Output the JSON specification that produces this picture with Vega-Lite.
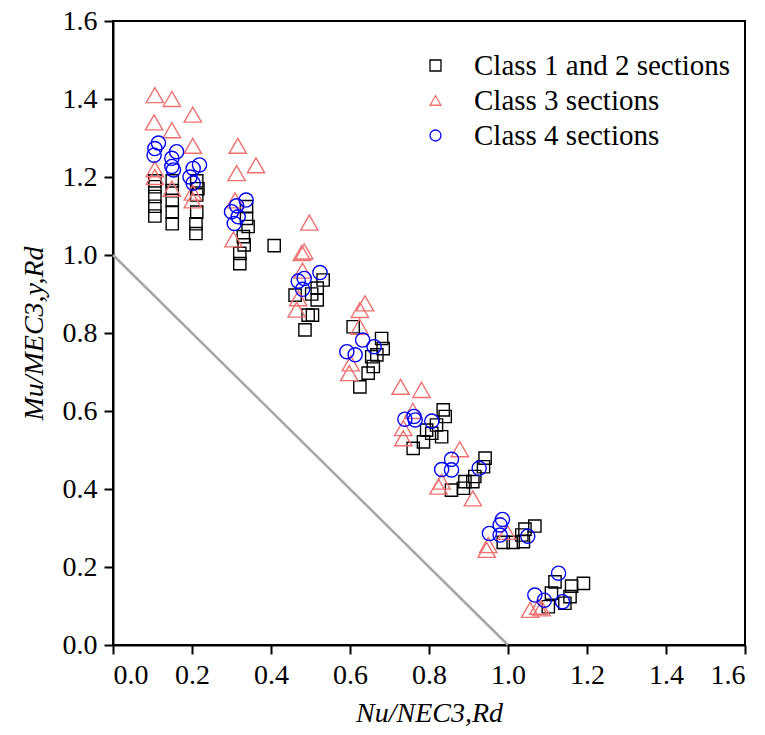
{
  "$schema": "https://vega.github.io/schema/vega-lite/v6.json",
  "width": 632,
  "height": 624,
  "autosize": {"type": "none"},
  "padding": {"left": 113, "top": 21, "right": 20, "bottom": 90},
  "config": {
    "view": {"stroke": "black", "strokeWidth": 2},
    "font": "Liberation Serif",
    "axis": {
      "grid": false,
      "domainColor": "black",
      "domainWidth": 2,
      "tickColor": "black",
      "tickWidth": 2,
      "tickSize": 9,
      "labelFont": "Liberation Serif",
      "labelFontSize": 28,
      "labelColor": "black",
      "labelPadding": 7,
      "titleFont": "Liberation Serif",
      "titleFontSize": 28,
      "titleFontStyle": "italic",
      "titleFontWeight": "normal",
      "titleColor": "black"
    },
    "legend": {
      "labelFont": "Liberation Serif",
      "labelFontSize": 29,
      "labelColor": "black",
      "labelLimit": 0
    }
  },
  "data": {"values": [
    {"nx": 0.106, "my": 1.19, "cls": "Class 1 and 2 sections"},
    {"nx": 0.106, "my": 1.175, "cls": "Class 1 and 2 sections"},
    {"nx": 0.106, "my": 1.15, "cls": "Class 1 and 2 sections"},
    {"nx": 0.106, "my": 1.125, "cls": "Class 1 and 2 sections"},
    {"nx": 0.106, "my": 1.10, "cls": "Class 1 and 2 sections"},
    {"nx": 0.15, "my": 1.19, "cls": "Class 1 and 2 sections"},
    {"nx": 0.15, "my": 1.165, "cls": "Class 1 and 2 sections"},
    {"nx": 0.15, "my": 1.14, "cls": "Class 1 and 2 sections"},
    {"nx": 0.15, "my": 1.11, "cls": "Class 1 and 2 sections"},
    {"nx": 0.15, "my": 1.08, "cls": "Class 1 and 2 sections"},
    {"nx": 0.212, "my": 1.19, "cls": "Class 1 and 2 sections"},
    {"nx": 0.215, "my": 1.17, "cls": "Class 1 and 2 sections"},
    {"nx": 0.212, "my": 1.154, "cls": "Class 1 and 2 sections"},
    {"nx": 0.212, "my": 1.11, "cls": "Class 1 and 2 sections"},
    {"nx": 0.21, "my": 1.08, "cls": "Class 1 and 2 sections"},
    {"nx": 0.21, "my": 1.055, "cls": "Class 1 and 2 sections"},
    {"nx": 0.338, "my": 1.124, "cls": "Class 1 and 2 sections"},
    {"nx": 0.338, "my": 1.094, "cls": "Class 1 and 2 sections"},
    {"nx": 0.342, "my": 1.073, "cls": "Class 1 and 2 sections"},
    {"nx": 0.33, "my": 1.047, "cls": "Class 1 and 2 sections"},
    {"nx": 0.332, "my": 1.026, "cls": "Class 1 and 2 sections"},
    {"nx": 0.321, "my": 1.004, "cls": "Class 1 and 2 sections"},
    {"nx": 0.321, "my": 0.978, "cls": "Class 1 and 2 sections"},
    {"nx": 0.408, "my": 1.024, "cls": "Class 1 and 2 sections"},
    {"nx": 0.532, "my": 0.936, "cls": "Class 1 and 2 sections"},
    {"nx": 0.517, "my": 0.915, "cls": "Class 1 and 2 sections"},
    {"nx": 0.503, "my": 0.90, "cls": "Class 1 and 2 sections"},
    {"nx": 0.461, "my": 0.897, "cls": "Class 1 and 2 sections"},
    {"nx": 0.517, "my": 0.885, "cls": "Class 1 and 2 sections"},
    {"nx": 0.505, "my": 0.846, "cls": "Class 1 and 2 sections"},
    {"nx": 0.494, "my": 0.846, "cls": "Class 1 and 2 sections"},
    {"nx": 0.486, "my": 0.808, "cls": "Class 1 and 2 sections"},
    {"nx": 0.68, "my": 0.786, "cls": "Class 1 and 2 sections"},
    {"nx": 0.684, "my": 0.76, "cls": "Class 1 and 2 sections"},
    {"nx": 0.668, "my": 0.744, "cls": "Class 1 and 2 sections"},
    {"nx": 0.655, "my": 0.739, "cls": "Class 1 and 2 sections"},
    {"nx": 0.659, "my": 0.714, "cls": "Class 1 and 2 sections"},
    {"nx": 0.646, "my": 0.697, "cls": "Class 1 and 2 sections"},
    {"nx": 0.625, "my": 0.662, "cls": "Class 1 and 2 sections"},
    {"nx": 0.608, "my": 0.816, "cls": "Class 1 and 2 sections"},
    {"nx": 0.836, "my": 0.603, "cls": "Class 1 and 2 sections"},
    {"nx": 0.841, "my": 0.586, "cls": "Class 1 and 2 sections"},
    {"nx": 0.819, "my": 0.564, "cls": "Class 1 and 2 sections"},
    {"nx": 0.794, "my": 0.551, "cls": "Class 1 and 2 sections"},
    {"nx": 0.832, "my": 0.534, "cls": "Class 1 and 2 sections"},
    {"nx": 0.786, "my": 0.521, "cls": "Class 1 and 2 sections"},
    {"nx": 0.76, "my": 0.504, "cls": "Class 1 and 2 sections"},
    {"nx": 0.807, "my": 0.543, "cls": "Class 1 and 2 sections"},
    {"nx": 0.942, "my": 0.479, "cls": "Class 1 and 2 sections"},
    {"nx": 0.938, "my": 0.457, "cls": "Class 1 and 2 sections"},
    {"nx": 0.916, "my": 0.432, "cls": "Class 1 and 2 sections"},
    {"nx": 0.911, "my": 0.419, "cls": "Class 1 and 2 sections"},
    {"nx": 0.891, "my": 0.419, "cls": "Class 1 and 2 sections"},
    {"nx": 0.887, "my": 0.402, "cls": "Class 1 and 2 sections"},
    {"nx": 0.857, "my": 0.397, "cls": "Class 1 and 2 sections"},
    {"nx": 1.068, "my": 0.305, "cls": "Class 1 and 2 sections"},
    {"nx": 1.043, "my": 0.297, "cls": "Class 1 and 2 sections"},
    {"nx": 1.035, "my": 0.282, "cls": "Class 1 and 2 sections"},
    {"nx": 1.013, "my": 0.263, "cls": "Class 1 and 2 sections"},
    {"nx": 0.988, "my": 0.263, "cls": "Class 1 and 2 sections"},
    {"nx": 1.039, "my": 0.265, "cls": "Class 1 and 2 sections"},
    {"nx": 1.191, "my": 0.158, "cls": "Class 1 and 2 sections"},
    {"nx": 1.161, "my": 0.151, "cls": "Class 1 and 2 sections"},
    {"nx": 1.119, "my": 0.162, "cls": "Class 1 and 2 sections"},
    {"nx": 1.11, "my": 0.133, "cls": "Class 1 and 2 sections"},
    {"nx": 1.157, "my": 0.124, "cls": "Class 1 and 2 sections"},
    {"nx": 1.144, "my": 0.107, "cls": "Class 1 and 2 sections"},
    {"nx": 1.102, "my": 0.098, "cls": "Class 1 and 2 sections"},
    {"nx": 0.106, "my": 1.41, "cls": "Class 3 sections"},
    {"nx": 0.149, "my": 1.40, "cls": "Class 3 sections"},
    {"nx": 0.202, "my": 1.36, "cls": "Class 3 sections"},
    {"nx": 0.104, "my": 1.34, "cls": "Class 3 sections"},
    {"nx": 0.149, "my": 1.32, "cls": "Class 3 sections"},
    {"nx": 0.202, "my": 1.28, "cls": "Class 3 sections"},
    {"nx": 0.316, "my": 1.28, "cls": "Class 3 sections"},
    {"nx": 0.362, "my": 1.23, "cls": "Class 3 sections"},
    {"nx": 0.313, "my": 1.21, "cls": "Class 3 sections"},
    {"nx": 0.106, "my": 1.22, "cls": "Class 3 sections"},
    {"nx": 0.106, "my": 1.20, "cls": "Class 3 sections"},
    {"nx": 0.149, "my": 1.17, "cls": "Class 3 sections"},
    {"nx": 0.202, "my": 1.16, "cls": "Class 3 sections"},
    {"nx": 0.202, "my": 1.14, "cls": "Class 3 sections"},
    {"nx": 0.309, "my": 1.14, "cls": "Class 3 sections"},
    {"nx": 0.305, "my": 1.04, "cls": "Class 3 sections"},
    {"nx": 0.497, "my": 1.083, "cls": "Class 3 sections"},
    {"nx": 0.484, "my": 1.009, "cls": "Class 3 sections"},
    {"nx": 0.478, "my": 1.005, "cls": "Class 3 sections"},
    {"nx": 0.48, "my": 0.96, "cls": "Class 3 sections"},
    {"nx": 0.469, "my": 0.889, "cls": "Class 3 sections"},
    {"nx": 0.465, "my": 0.86, "cls": "Class 3 sections"},
    {"nx": 0.638, "my": 0.876, "cls": "Class 3 sections"},
    {"nx": 0.625, "my": 0.859, "cls": "Class 3 sections"},
    {"nx": 0.624, "my": 0.816, "cls": "Class 3 sections"},
    {"nx": 0.602, "my": 0.722, "cls": "Class 3 sections"},
    {"nx": 0.598, "my": 0.697, "cls": "Class 3 sections"},
    {"nx": 0.728, "my": 0.662, "cls": "Class 3 sections"},
    {"nx": 0.781, "my": 0.654, "cls": "Class 3 sections"},
    {"nx": 0.759, "my": 0.60, "cls": "Class 3 sections"},
    {"nx": 0.735, "my": 0.556, "cls": "Class 3 sections"},
    {"nx": 0.735, "my": 0.53, "cls": "Class 3 sections"},
    {"nx": 0.878, "my": 0.502, "cls": "Class 3 sections"},
    {"nx": 0.832, "my": 0.419, "cls": "Class 3 sections"},
    {"nx": 0.824, "my": 0.406, "cls": "Class 3 sections"},
    {"nx": 0.911, "my": 0.376, "cls": "Class 3 sections"},
    {"nx": 0.95, "my": 0.256, "cls": "Class 3 sections"},
    {"nx": 0.946, "my": 0.244, "cls": "Class 3 sections"},
    {"nx": 0.997, "my": 0.29, "cls": "Class 3 sections"},
    {"nx": 1.056, "my": 0.09, "cls": "Class 3 sections"},
    {"nx": 1.077, "my": 0.098, "cls": "Class 3 sections"},
    {"nx": 1.085, "my": 0.094, "cls": "Class 3 sections"},
    {"nx": 0.115, "my": 1.287, "cls": "Class 4 sections"},
    {"nx": 0.106, "my": 1.273, "cls": "Class 4 sections"},
    {"nx": 0.104, "my": 1.256, "cls": "Class 4 sections"},
    {"nx": 0.161, "my": 1.265, "cls": "Class 4 sections"},
    {"nx": 0.149, "my": 1.248, "cls": "Class 4 sections"},
    {"nx": 0.149, "my": 1.227, "cls": "Class 4 sections"},
    {"nx": 0.153, "my": 1.218, "cls": "Class 4 sections"},
    {"nx": 0.219, "my": 1.231, "cls": "Class 4 sections"},
    {"nx": 0.203, "my": 1.222, "cls": "Class 4 sections"},
    {"nx": 0.195, "my": 1.20, "cls": "Class 4 sections"},
    {"nx": 0.203, "my": 1.184, "cls": "Class 4 sections"},
    {"nx": 0.337, "my": 1.141, "cls": "Class 4 sections"},
    {"nx": 0.313, "my": 1.126, "cls": "Class 4 sections"},
    {"nx": 0.30, "my": 1.111, "cls": "Class 4 sections"},
    {"nx": 0.317, "my": 1.098, "cls": "Class 4 sections"},
    {"nx": 0.307, "my": 1.081, "cls": "Class 4 sections"},
    {"nx": 0.524, "my": 0.955, "cls": "Class 4 sections"},
    {"nx": 0.484, "my": 0.94, "cls": "Class 4 sections"},
    {"nx": 0.469, "my": 0.933, "cls": "Class 4 sections"},
    {"nx": 0.48, "my": 0.912, "cls": "Class 4 sections"},
    {"nx": 0.632, "my": 0.782, "cls": "Class 4 sections"},
    {"nx": 0.661, "my": 0.765, "cls": "Class 4 sections"},
    {"nx": 0.592, "my": 0.752, "cls": "Class 4 sections"},
    {"nx": 0.613, "my": 0.744, "cls": "Class 4 sections"},
    {"nx": 0.739, "my": 0.579, "cls": "Class 4 sections"},
    {"nx": 0.762, "my": 0.586, "cls": "Class 4 sections"},
    {"nx": 0.765, "my": 0.577, "cls": "Class 4 sections"},
    {"nx": 0.807, "my": 0.574, "cls": "Class 4 sections"},
    {"nx": 0.857, "my": 0.476, "cls": "Class 4 sections"},
    {"nx": 0.832, "my": 0.45, "cls": "Class 4 sections"},
    {"nx": 0.857, "my": 0.449, "cls": "Class 4 sections"},
    {"nx": 0.927, "my": 0.453, "cls": "Class 4 sections"},
    {"nx": 0.986, "my": 0.322, "cls": "Class 4 sections"},
    {"nx": 0.98, "my": 0.308, "cls": "Class 4 sections"},
    {"nx": 0.953, "my": 0.286, "cls": "Class 4 sections"},
    {"nx": 0.98, "my": 0.282, "cls": "Class 4 sections"},
    {"nx": 1.05, "my": 0.279, "cls": "Class 4 sections"},
    {"nx": 1.128, "my": 0.184, "cls": "Class 4 sections"},
    {"nx": 1.068, "my": 0.128, "cls": "Class 4 sections"},
    {"nx": 1.092, "my": 0.115, "cls": "Class 4 sections"},
    {"nx": 1.138, "my": 0.111, "cls": "Class 4 sections"}
  ]},
  "encoding": {
    "x": {"field": "nx", "type": "quantitative", "scale": {"domain": [0, 1.6], "nice": false},
          "axis": {"values": [0, 0.2, 0.4, 0.6, 0.8, 1.0, 1.2, 1.4, 1.6], "format": ".1f", "title": "Nu/NEC3,Rd", "titlePadding": 10}},
    "y": {"field": "my", "type": "quantitative", "scale": {"domain": [0, 1.6], "nice": false},
          "axis": {"values": [0, 0.2, 0.4, 0.6, 0.8, 1.0, 1.2, 1.4, 1.6], "format": ".1f", "title": "Mu/MEC3,y,Rd", "titlePadding": 14}}
  },
  "layer": [
    {
      "data": {"values": [{"nx": 0, "my": 1}, {"nx": 1, "my": 0}]},
      "mark": {"type": "line", "color": "#a6a6a6", "strokeWidth": 2.5}
    },
    {
      "transform": [{"filter": "datum.cls === 'Class 1 and 2 sections'"}],
      "mark": {"type": "point", "filled": false, "strokeWidth": 1.4, "opacity": 1, "size": 150},
      "encoding": {
        "shape": {
          "field": "cls", "type": "nominal",
          "scale": {"domain": ["Class 1 and 2 sections", "Class 3 sections", "Class 4 sections"], "range": ["square", "triangle-up", "circle"]},
          "legend": {"title": null, "orient": "none", "legendX": 308, "legendY": 30, "symbolSize": 120, "symbolStrokeWidth": 1.3, "labelOffset": 24, "rowPadding": 5}
        },
        "color": {
          "field": "cls", "type": "nominal",
          "scale": {"domain": ["Class 1 and 2 sections", "Class 3 sections", "Class 4 sections"], "range": ["#000000", "#f07070", "#0000ff"]},
          "legend": {"title": null, "orient": "none", "legendX": 308, "legendY": 30, "symbolSize": 120, "symbolStrokeWidth": 1.3, "labelOffset": 24, "rowPadding": 5}
        }
      }
    },
    {
      "transform": [{"filter": "datum.cls === 'Class 3 sections'"}],
      "mark": {"type": "point", "filled": false, "strokeWidth": 1.4, "opacity": 1, "size": 300},
      "encoding": {
        "shape": {"field": "cls", "type": "nominal"},
        "color": {"field": "cls", "type": "nominal"}
      }
    },
    {
      "transform": [{"filter": "datum.cls === 'Class 4 sections'"}],
      "mark": {"type": "point", "filled": false, "strokeWidth": 1.4, "opacity": 1, "size": 200},
      "encoding": {
        "shape": {"field": "cls", "type": "nominal"},
        "color": {"field": "cls", "type": "nominal"}
      }
    }
  ]
}
